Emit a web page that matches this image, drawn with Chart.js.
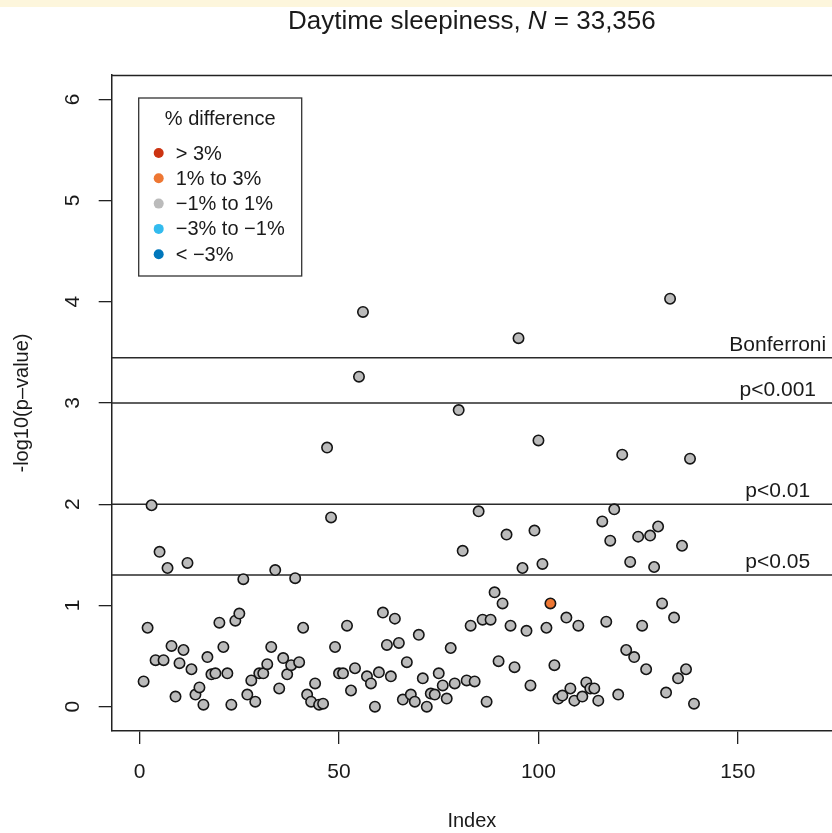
<!DOCTYPE html>
<html>
<head>
<meta charset="utf-8">
<title>Daytime sleepiness</title>
<script src="https://cdn.jsdelivr.net/npm/chart.js@4.4.0/dist/chart.umd.min.js"></script>
<style>
  html, body { margin: 0; padding: 0; background: #fff; }
  body { width: 832px; height: 833px; overflow: hidden; position: relative; }
  #wrap { position: absolute; left: 0; top: 0; width: 832px; height: 833px; }
  .topbar { position: absolute; left: 0; top: 0; width: 832px; height: 7px; background: #fdf6dc; }
</style>
</head>
<body>
<div id="wrap"><canvas id="chart" width="832" height="833"></canvas></div>
<div class="topbar"></div>
<script>
// -log10(p) for each test, in index order 1..139
const logP = [
  0.25, 0.78, 1.99, 0.46, 1.53, 0.46, 1.37, 0.60, 0.10, 0.43,
  0.56, 1.42, 0.37, 0.12, 0.19, 0.02, 0.49, 0.32, 0.33, 0.83,
  0.59, 0.33, 0.02, 0.85, 0.92, 1.26, 0.12, 0.26, 0.05, 0.33,
  0.33, 0.42, 0.59, 1.35, 0.18, 0.48, 0.32, 0.41, 1.27, 0.44,
  0.78, 0.12, 0.05, 0.23, 0.02, 0.03, 2.56, 1.87, 0.59, 0.33,
  0.33, 0.80, 0.16, 0.38, 3.26, 3.90, 0.30, 0.23, 0.00, 0.34,
  0.93, 0.61, 0.30, 0.87, 0.63, 0.07, 0.44, 0.12, 0.05, 0.71,
  0.28, 0.00, 0.13, 0.12, 0.33, 0.21, 0.08, 0.58, 0.23, 2.93,
  1.54, 0.26, 0.80, 0.25, 1.93, 0.86, 0.05, 0.86, 1.13, 0.45,
  1.02, 1.70, 0.80, 0.39, 3.64, 1.37, 0.75, 0.21, 1.74, 2.63,
  1.41, 0.78, 1.02, 0.41, 0.08, 0.11, 0.88, 0.18, 0.06, 0.80,
  0.10, 0.24, 0.18, 0.18, 0.06, 1.83, 0.84, 1.64, 1.95, 0.12,
  2.49, 0.56, 1.43, 0.49, 1.68, 0.80, 0.37, 1.69, 1.38, 1.78,
  1.02, 0.14, 4.03, 0.88, 0.28, 1.59, 0.37, 2.45, 0.03
];

// % difference groups (legend order) and their colours
const diffGroups = ["> 3%", "1% to 3%", "\u22121% to 1%", "\u22123% to \u22121%", "< \u22123%"];
const groupColors = ["#CC3311", "#EE7733", "#BBBBBB", "#33BBEE", "#0077BB"];
// indices that fall in "1% to 3%"; every other point is "-1% to 1%"
const group1to3 = [103];

// significance thresholds
const thresholdValues = [1.30103, 2, 3, 3.447];
const thresholdLabels = ["p<0.05", "p<0.01", "p<0.001", "Bonferroni"];
const thresholdLabelX = 160;

const xTicks = [0, 50, 100, 150];
const yTicks = [0, 1, 2, 3, 4, 5, 6];
const xMin = -7, xMax = 173.6;
const yMin = -0.24, yMax = 6.24;

const FONT = "'Liberation Sans', Arial, Helvetica, sans-serif";
const INK = "#1a1a1a";

const points = logP.map((v, i) => ({ x: i + 1, y: v }));
const pointColors = logP.map((v, i) => group1to3.includes(i + 1) ? groupColors[1] : groupColors[2]);

const lineSets = thresholdValues.map(v => ({
  data: [{ x: xMin, y: v }, { x: xMax, y: v }],
  showLine: true,
  pointRadius: 0,
  borderColor: "#2a2a2a",
  borderWidth: 1.4,
  order: 2
}));

const decor = {
  id: "decor",
  afterDraw(chart) {
    const ctx = chart.ctx;
    const a = chart.chartArea;
    const xs = chart.scales.x, ys = chart.scales.y;
    ctx.save();

    // top edge of the box
    ctx.strokeStyle = "#222";
    ctx.lineWidth = 1.5;
    ctx.beginPath();
    ctx.moveTo(a.left, a.top + 0.5);
    ctx.lineTo(a.right, a.top + 0.5);
    ctx.stroke();

    // title with italic N
    const parts = [
      ["Daytime sleepiness, ", "normal"],
      ["N", "italic"],
      [" = 33,356", "normal"]
    ];
    let total = 0;
    parts.forEach(p => { ctx.font = p[1] + " 26px " + FONT; total += ctx.measureText(p[0]).width; });
    let tx = (a.left + a.right) / 2 - total / 2;
    ctx.fillStyle = INK;
    ctx.textBaseline = "alphabetic";
    ctx.textAlign = "left";
    parts.forEach(p => {
      ctx.font = p[1] + " 26px " + FONT;
      ctx.fillText(p[0], tx, 29);
      tx += ctx.measureText(p[0]).width;
    });

    // threshold labels
    ctx.font = "21px " + FONT;
    ctx.textAlign = "center";
    thresholdValues.forEach((v, i) => {
      ctx.fillText(thresholdLabels[i], xs.getPixelForValue(thresholdLabelX), ys.getPixelForValue(v) - 7);
    });

    // legend box
    const L = a.left + 27, T = a.top + 23, R = a.left + 190, B = a.top + 201;
    ctx.fillStyle = "#fff";
    ctx.fillRect(L, T, R - L, B - T);
    ctx.strokeStyle = "#333";
    ctx.lineWidth = 1.3;
    ctx.strokeRect(L, T, R - L, B - T);
    ctx.fillStyle = INK;
    ctx.font = "20px " + FONT;
    ctx.textAlign = "center";
    ctx.textBaseline = "middle";
    ctx.fillText("% difference", (L + R) / 2, T + 21);
    ctx.textAlign = "left";
    diffGroups.forEach((g, i) => {
      const cy = T + 55 + i * 25.3;
      ctx.fillStyle = groupColors[i];
      ctx.beginPath();
      ctx.arc(L + 20, cy, 5, 0, Math.PI * 2);
      ctx.fill();
      ctx.fillStyle = INK;
      ctx.fillText(g, L + 37, cy + 1);
    });
    ctx.restore();
  }
};

new Chart(document.getElementById("chart"), {
  type: "scatter",
  data: {
    datasets: [
      {
        data: points,
        backgroundColor: pointColors,
        borderColor: "#151515",
        borderWidth: 1.6,
        pointRadius: 5.2,
        order: 1
      },
      ...lineSets
    ]
  },
  options: {
    responsive: false,
    animation: false,
    events: [],
    layout: { padding: { top: 75, left: 0, right: 0, bottom: 0 }, autoPadding: false },
    plugins: { legend: { display: false }, tooltip: { enabled: false }, title: { display: false } },
    scales: {
      x: {
        type: "linear",
        min: xMin,
        max: xMax,
        afterBuildTicks: s => { s.ticks = xTicks.map(v => ({ value: v })); },
        afterFit: s => { s.height = 102; },
        grid: { display: true, drawOnChartArea: false, drawTicks: true, tickLength: 13, color: "#222", lineWidth: 1.3 },
        border: { display: true, color: "#222", width: 1.5 },
        ticks: { color: INK, font: { family: FONT, size: 21 }, padding: 16, maxRotation: 0, autoSkip: false },
        title: { display: true, text: "Index", color: INK, font: { family: FONT, size: 20 }, padding: { top: 0, bottom: 0 } }
      },
      y: {
        type: "linear",
        min: yMin,
        max: yMax,
        afterBuildTicks: s => { s.ticks = yTicks.map(v => ({ value: v })); },
        afterFit: s => { s.width = 111.7; },
        grid: { display: true, drawOnChartArea: false, drawTicks: true, tickLength: 13, color: "#222", lineWidth: 1.3 },
        border: { display: true, color: "#222", width: 1.5 },
        ticks: { color: INK, font: { family: FONT, size: 21 }, padding: 20, minRotation: 90, maxRotation: 90, crossAlign: "center", autoSkip: false },
        title: { display: true, text: "-log10(p\u2013value)", color: INK, font: { family: FONT, size: 20 }, padding: { top: 10, bottom: 0 } }
      }
    }
  },
  plugins: [decor]
});
</script>
</body>
</html>
